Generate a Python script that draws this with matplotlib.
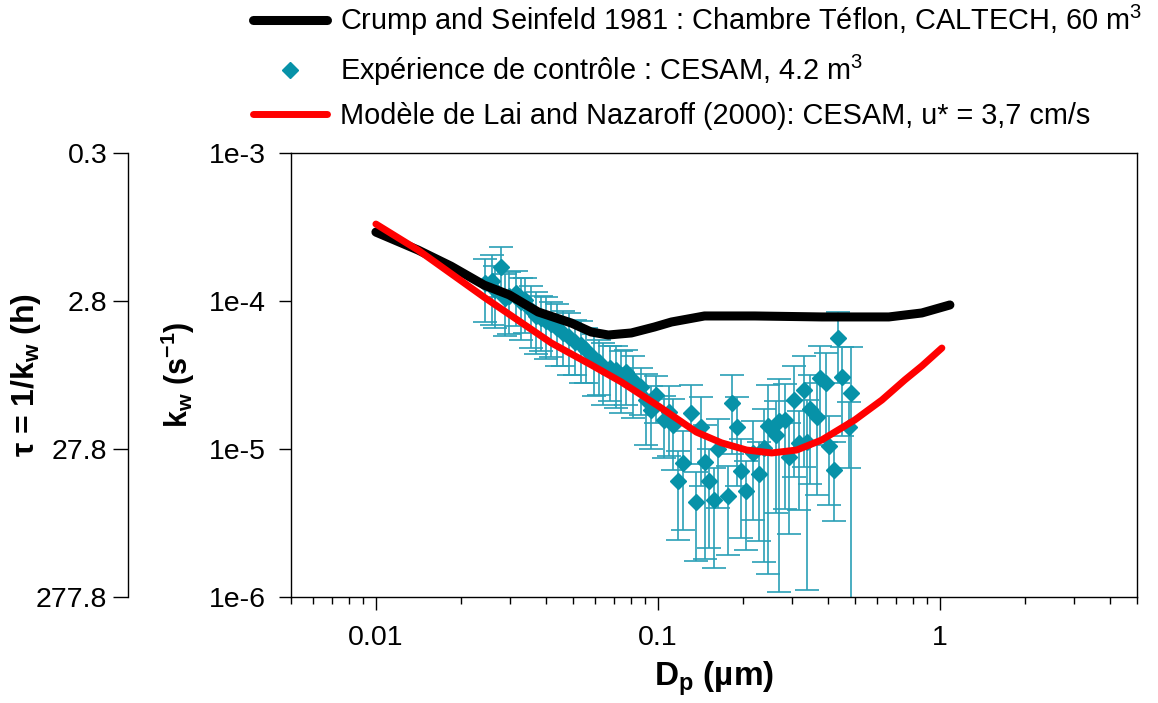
import numpy as np
import matplotlib
matplotlib.use("Agg")
import matplotlib.pyplot as plt
from matplotlib.ticker import NullLocator, NullFormatter

plt.rcParams['font.family'] = ['Liberation Sans', 'DejaVu Sans']
plt.rcParams['mathtext.fontset'] = 'custom'
plt.rcParams['mathtext.rm'] = 'Liberation Sans'
plt.rcParams['mathtext.it'] = 'Liberation Sans:italic'
plt.rcParams['mathtext.bf'] = 'Liberation Sans:bold'

# Crump and Seinfeld 1981 (Teflon, CALTECH, 60 m3)
crump_dp = [0.01, 0.0141, 0.01845, 0.0242, 0.0297, 0.0376, 0.0493, 0.0580, 0.0667,
            0.0805, 0.0972, 0.1117, 0.1463, 0.2203, 0.381, 0.659, 0.863, 1.085]
crump_kw = [2.92e-4, 2.21e-4, 1.72e-4, 1.28e-4, 1.10e-4, 8.43e-5, 7.10e-5, 6.17e-5, 5.89e-5,
            6.08e-5, 6.67e-5, 7.21e-5, 7.92e-5, 7.92e-5, 7.80e-5, 7.80e-5, 8.30e-5, 9.40e-5]

# Lai and Nazaroff (2000) model, CESAM, u* = 3.7 cm/s
lai_dp = [0.01, 0.0141, 0.0242, 0.0419, 0.0580, 0.0741, 0.1004, 0.1370, 0.1681,
          0.2063, 0.2531, 0.3105, 0.3809, 0.4989, 0.6223, 0.7510, 0.8633, 1.016]
lai_kw = [3.31e-4, 2.21e-4, 1.06e-4, 5.20e-5, 3.70e-5, 2.84e-5, 1.95e-5, 1.30e-5, 1.10e-5,
          9.84e-6, 9.40e-6, 9.84e-6, 1.15e-5, 1.57e-5, 2.14e-5, 2.93e-5, 3.64e-5, 4.81e-5]

# control experiment CESAM 4.2 m3
cesam_dp = [0.0244, 0.0258, 0.0265, 0.0278, 0.0287, 0.0297, 0.0314, 0.0327, 0.0338, 0.0355,
            0.0370, 0.0386, 0.0402, 0.0418, 0.0440, 0.0462, 0.0485, 0.0509, 0.0535, 0.0557,
            0.0595, 0.0620, 0.0640, 0.0678, 0.0712, 0.0742, 0.0773, 0.0818, 0.0874, 0.0910,
            0.0948, 0.0988, 0.1055, 0.1099, 0.1135, 0.1183, 0.1232, 0.1315, 0.1370, 0.1427,
            0.1463, 0.1523, 0.1587, 0.1640, 0.1766, 0.1824, 0.1901, 0.1964, 0.2046, 0.2166,
            0.2275, 0.2371, 0.2449, 0.2615, 0.2680, 0.2815, 0.2909, 0.3029, 0.3156, 0.3288,
            0.3370, 0.3453, 0.3657, 0.3747, 0.3936, 0.4034, 0.4203, 0.4342, 0.4487, 0.4750,
            0.4829]
cesam_kw = [1.32e-4, 1.37e-4, 1.19e-4, 1.70e-4, 1.05e-4, 1.08e-4, 1.13e-4, 9.84e-5, 1.02e-4, 8.70e-5,
            7.92e-5, 7.67e-5, 7.33e-5, 6.99e-5, 6.57e-5, 6.08e-5, 5.71e-5, 5.28e-5, 5.04e-5, 4.67e-5,
            4.12e-5, 3.87e-5, 3.58e-5, 3.53e-5, 3.42e-5, 3.16e-5, 3.31e-5, 2.93e-5, 2.62e-5, 2.14e-5,
            1.83e-5, 2.32e-5, 1.57e-5, 1.78e-5, 1.45e-5, 6.08e-6, 8.04e-6, 1.75e-5, 4.38e-6, 1.41e-5,
            8.17e-6, 6.08e-6, 4.52e-6, 1.00e-5, 4.81e-6, 2.05e-5, 1.41e-5, 7.10e-6, 5.20e-6, 9.40e-6,
            6.78e-6, 1.02e-5, 1.43e-5, 1.24e-5, 1.55e-5, 1.57e-5, 8.83e-6, 2.14e-5, 1.10e-5, 2.50e-5,
            1.12e-5, 1.86e-5, 1.64e-5, 3.02e-5, 2.79e-5, 1.05e-5, 7.21e-6, 5.62e-5, 3.06e-5, 1.41e-5,
            2.39e-5]
# relative uncertainty (fraction of kw)
cesam_rel_err = [0.45, 0.50, 0.45, 0.37, 0.45, 0.45, 0.40, 0.45, 0.40, 0.45,
                 0.45, 0.40, 0.45, 0.40, 0.45, 0.40, 0.45, 0.40, 0.45, 0.40,
                 0.45, 0.40, 0.45, 0.40, 0.45, 0.45, 0.40, 0.45, 0.35, 0.50,
                 0.45, 0.35, 0.45, 0.50, 0.50, 0.60, 0.65, 0.55, 0.60, 0.60,
                 0.78, 0.65, 0.65, 0.60, 0.60, 0.55, 0.60, 0.65, 0.60, 0.65,
                 0.65, 0.83, 0.90, 0.70, 0.93, 0.75, 0.70, 0.70, 0.65, 0.70,
                 0.90, 0.69, 0.70, 0.65, 0.60, 0.60, 0.55, 0.50, 0.60, 0.47,
                 1.05]

kw_ticks = [1e-6, 1e-5, 1e-4, 1e-3]
dp_ticks = [0.01, 0.1, 1]


def main():
    dp = np.array(cesam_dp)
    kw = np.array(cesam_kw)
    err = kw * np.array(cesam_rel_err)

    fig = plt.figure(figsize=(11.58, 7.03), dpi=100)
    ax = fig.add_axes([0.2513, 0.1508, 0.7306, 0.6316])

    ax.errorbar(dp, kw, yerr=err, fmt='none', ecolor='#2aa0b6', elinewidth=1.2,
                capsize=8.5, capthick=1.2, zorder=2)
    h_exp, = ax.plot(dp, kw, 'D', ms=8.5, color='#0792a8', mec='#0792a8',
                     linestyle='none', zorder=3)
    h_crump, = ax.plot(crump_dp, crump_kw, color='black', lw=6.5,
                       solid_capstyle='round', solid_joinstyle='round', zorder=4)
    h_lai, = ax.plot(lai_dp, lai_kw, color='#ff0000', lw=5,
                     solid_capstyle='round', solid_joinstyle='round', zorder=5)

    ax.set_xscale('log')
    ax.set_yscale('log')
    ax.set_xlim(0.005, 5)
    ax.set_ylim(1e-6, 1e-3)
    ax.set_xticks(dp_ticks, labels=['0.01', '0.1', '1'])
    ax.xaxis.set_minor_formatter(NullFormatter())
    ax.set_yticks(kw_ticks, labels=['1e-6', '1e-5', '1e-4', '1e-3'])
    ax.yaxis.set_minor_locator(NullLocator())
    ax.tick_params(axis='both', which='major', direction='out', length=9, width=1,
                   labelsize=20.5)
    ax.tick_params(axis='x', which='major', pad=11)
    ax.tick_params(axis='y', which='major', pad=9)
    ax.tick_params(axis='x', which='minor', direction='out', length=5, width=1)
    for s in ax.spines.values():
        s.set_linewidth(1)

    ax.set_xlabel('D$_\\mathregular{p}$ (µm)', fontsize=24, fontweight='bold')
    ax.xaxis.set_label_coords(0.5, -0.14)
    ax.set_ylabel('k$_\\mathregular{w}$ (s$^\\mathregular{-1}$)', fontsize=22,
                  fontweight='bold')
    ax.yaxis.set_label_coords(-0.111, 0.5)

    # axe secondaire : temps de vie tau = 1/kw en heures
    ax2 = ax.twinx()
    ax2.set_yscale('log')
    ax2.set_ylim(1e-6, 1e-3)
    tau_labels = [f'{1 / k / 3600:.1f}' for k in kw_ticks]
    ax2.set_yticks(kw_ticks, labels=tau_labels)
    ax2.yaxis.set_minor_locator(NullLocator())
    ax2.yaxis.set_ticks_position('left')
    ax2.yaxis.set_label_position('left')
    for name in ['right', 'top', 'bottom']:
        ax2.spines[name].set_visible(False)
    ax2.spines['left'].set_visible(True)
    ax2.spines['left'].set_position(('axes', -0.1927))
    ax2.spines['left'].set_linewidth(1)
    ax2.tick_params(axis='y', which='major', direction='out', length=11, width=1,
                    labelsize=20.5, pad=4)
    ax2.set_ylabel('τ = 1/k$_\\mathregular{w}$ (h)', fontsize=23, fontweight='bold')
    ax2.yaxis.set_label_coords(-0.293, 0.5)

    handles = [h_crump, h_exp, h_lai]
    labels = ['Crump and Seinfeld 1981 : Chambre Téflon, CALTECH, 60 m$^\\mathregular{3}$',
              'Expérience de contrôle : CESAM, 4.2 m$^\\mathregular{3}$',
              'Modèle de Lai and Nazaroff (2000): CESAM, u* = 3,7 cm/s']
    fig.legend(handles, labels, loc='upper left', bbox_to_anchor=(253 / 1158, 1 - 3 / 703),
               frameon=False, fontsize=20.8, handlelength=2.55, handletextpad=0.45,
               borderpad=0, borderaxespad=0, labelspacing=0.5)

    fig.savefig('out.png', dpi=100)


if __name__ == '__main__':
    main()
